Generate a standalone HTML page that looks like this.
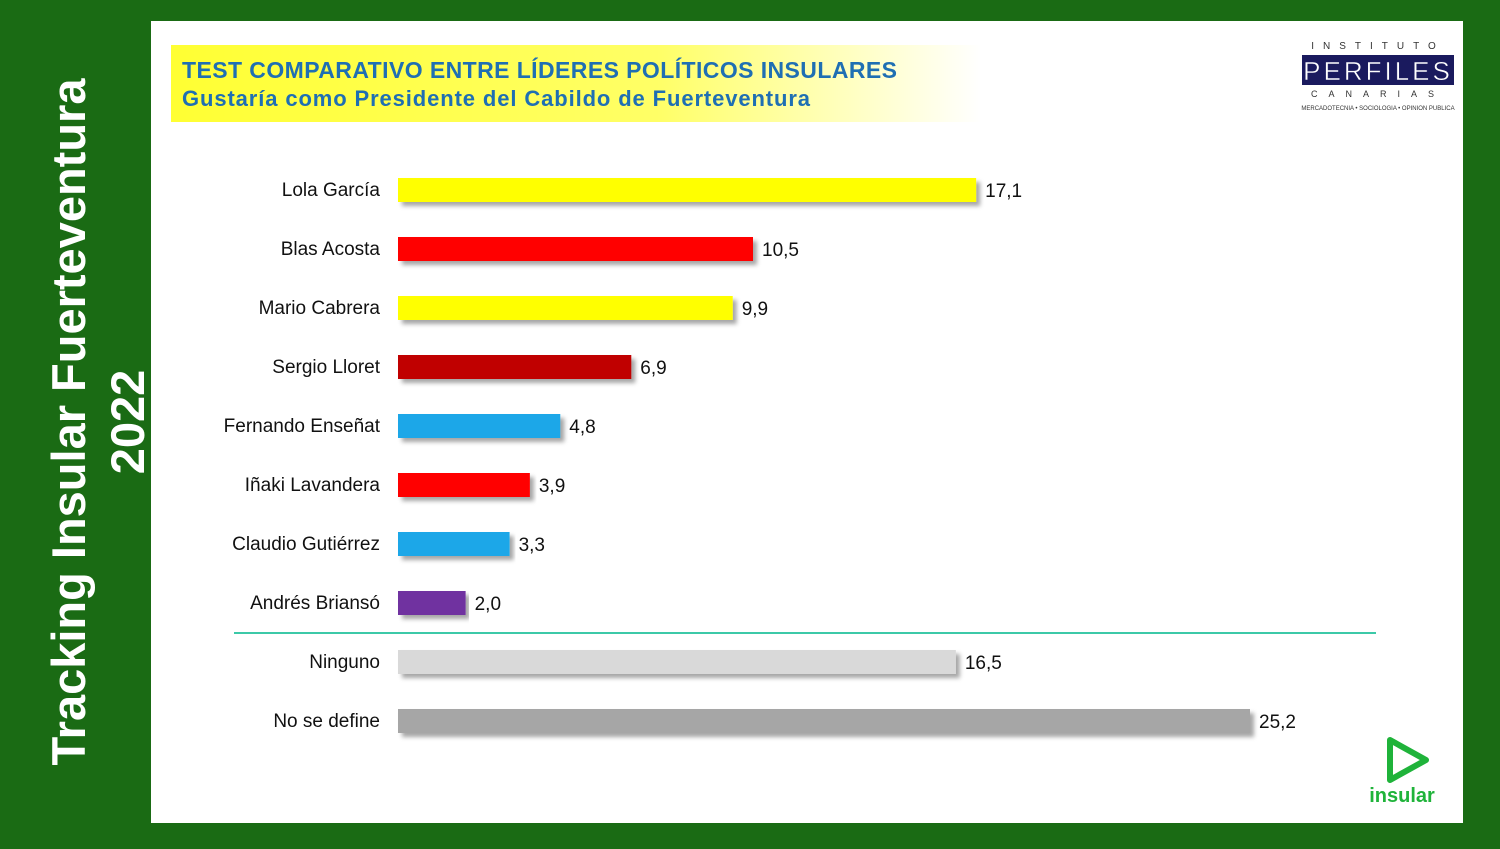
<!DOCTYPE html>
<html><head><meta charset="utf-8"><style>
body{margin:0;width:1500px;height:844px;background:#1a6b14;position:relative;overflow:hidden;font-family:"Liberation Sans",sans-serif}
#panel{position:absolute;left:151px;top:21px;width:1312px;height:802px;background:#fff}
#side{position:absolute;left:0;top:0;width:151px;height:844px}
</style></head><body>
<div id="side">
<svg width="151" height="844"><g fill="#fff" font-family="Liberation Sans" font-weight="bold" text-anchor="middle">
<text font-size="47" transform="translate(85,422) rotate(-90)">Tracking Insular Fuerteventura</text>
<text font-size="47" transform="translate(144,422) rotate(-90)">2022</text></g></svg></div>
<div id="panel"></div>
<svg id="chart" width="1500" height="844" style="position:absolute;left:0;top:0">
<defs><linearGradient id="hdr" x1="0" x2="1"><stop offset="0" stop-color="#ffff33"/><stop offset="0.6" stop-color="#ffff66"/><stop offset="1" stop-color="#fff"/></linearGradient>
<filter id="sh" x="-5%" y="-50%" width="110%" height="200%"><feDropShadow dx="4" dy="4" stdDeviation="2" flood-color="#000" flood-opacity="0.35"/></filter></defs>
<rect x="171" y="45" width="810" height="77" fill="url(#hdr)"/>
<text x="182" y="78" font-size="23" font-weight="bold" fill="#1f6fb3" textLength="715">TEST COMPARATIVO ENTRE LÍDERES POLÍTICOS INSULARES</text>
<text x="182" y="106" font-size="22" font-weight="bold" fill="#1f6fb3" textLength="628">Gustaría como Presidente del Cabildo de Fuerteventura</text>
<g>
<text x="1378" y="49" font-size="10" fill="#333" text-anchor="middle" letter-spacing="9">INSTITUTO</text>
<rect x="1302" y="55" width="152" height="30" fill="#1a1a5e"/>
<text x="1378" y="80" font-size="26" fill="#fff" text-anchor="middle" letter-spacing="3" stroke="#1a1a5e" stroke-width="0.5">PERFILES</text>
<text x="1378" y="97" font-size="9" fill="#333" text-anchor="middle" letter-spacing="11">CANARIAS</text>
<text x="1378" y="110" font-size="6" fill="#333" text-anchor="middle">MERCADOTECNIA • SOCIOLOGIA • OPINION PUBLICA</text></g>
<line x1="234" y1="633" x2="1376" y2="633" stroke="#3cc9a8" stroke-width="2"/>
<g>
<path d="M1390 740 L1426 760 L1390 780 Z" fill="none" stroke="#1fb33a" stroke-width="6" stroke-linejoin="round"/>
<text x="1402" y="802" font-size="20" font-weight="bold" fill="#1fb33a" text-anchor="middle">insular</text></g>
<g id="bars"></g>
</svg>
<script>
const categories=["Lola García","Blas Acosta","Mario Cabrera","Sergio Lloret","Fernando Enseñat","Iñaki Lavandera","Claudio Gutiérrez","Andrés Briansó","Ninguno","No se define"];
const values=[17.1,10.5,9.9,6.9,4.8,3.9,3.3,2.0,16.5,25.2];
const labels=["17,1","10,5","9,9","6,9","4,8","3,9","3,3","2,0","16,5","25,2"];
const colors=["#ffff00","#ff0000","#ffff00","#c00000","#1aa7e8","#ff0000","#1aa7e8","#7030a0","#d9d9d9","#a6a6a6"];
const x0=398,pxPer=(1250-398)/25.2;
const xs=v=>x0+v*pxPer;
const ys=i=>190+i*59;
const g=document.getElementById('bars');const NS='http://www.w3.org/2000/svg';
categories.forEach((c,i)=>{
 const r=document.createElementNS(NS,'rect');
 
 
 r.setAttribute('x',x0);r.setAttribute('y',ys(i)-12);r.setAttribute('width',xs(values[i])-x0);r.setAttribute('height',24);
 r.setAttribute('fill',colors[i]);r.setAttribute('filter','url(#sh)');g.appendChild(r);
 const t=document.createElementNS(NS,'text');
 
 
 t.setAttribute('x',380);t.setAttribute('y',ys(i)+6);t.setAttribute('text-anchor','end');t.setAttribute('font-size','19');t.setAttribute('fill','#111');
 t.textContent=c;g.appendChild(t);
 const v=document.createElementNS(NS,'text');
 
 
 v.setAttribute('x',xs(values[i])+9);v.setAttribute('y',ys(i)+7);v.setAttribute('font-size','19');v.setAttribute('fill','#111');
 v.textContent=labels[i];g.appendChild(v);
});
</script>
</body></html>
